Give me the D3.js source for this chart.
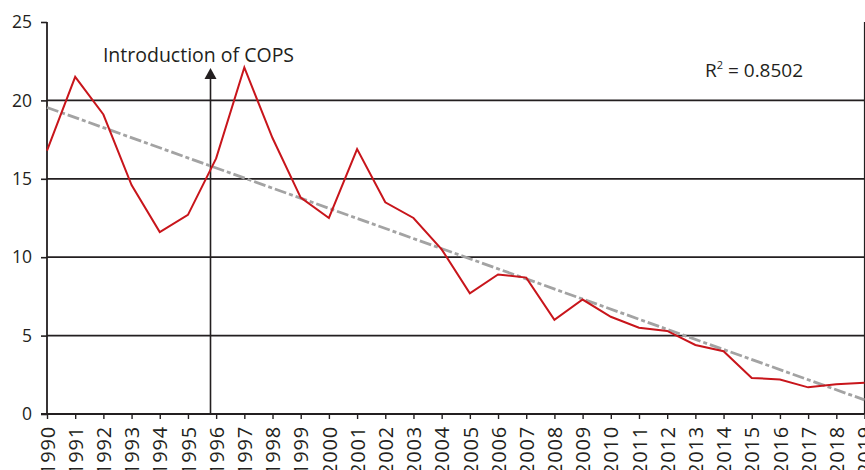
<!DOCTYPE html>
<html>
<head>
<meta charset="utf-8">
<script src="https://cdn.jsdelivr.net/npm/d3@7"></script>
<style>
	html, body { margin: 0; padding: 0; background: #fff; }
	svg { display: block; font-family: 'Open Sans', sans-serif; }
</style>
</head>
<body>
<div id="chart"></div>
<script>

var years = [1990, 1991, 1992, 1993, 1994, 1995, 1996, 1997, 1998, 1999, 2000, 2001, 2002, 2003, 2004,
	2005, 2006, 2007, 2008, 2009, 2010, 2011, 2012, 2013, 2014, 2015, 2016, 2017, 2018, 2019];
var values = [16.8, 21.5, 19.1, 14.6, 11.6, 12.7, 16.3, 22.1, 17.6, 13.8, 12.5, 16.9, 13.5, 12.5, 10.5,
	7.7, 8.9, 8.7, 6.0, 7.3, 6.2, 5.5, 5.3, 4.4, 4.0, 2.3, 2.2, 1.7, 1.9, 2.0];
var trendYears = [1990, 2019];
var trendValues = [19.55, 0.9];
var yTicks = [0, 5, 10, 15, 20, 25];
var gridTicks = [5, 10, 15, 20];
var arrowYear = 1995.8;
var arrowLabel = 'Introduction of COPS';
var rLabel = '0.8502';

var width = 865;
var height = 470;
var plotLeft = 47;
var plotRight = 864.5;
var plotTop = 22;
var plotBottom = 414;
var ink = '#231f20';

var svg = d3.select('#chart').append('svg')
	.attr('width', width)
	.attr('height', height);

var x = d3.scaleLinear().domain([1990, 2019]).range([plotLeft, plotRight]);
var y = d3.scaleLinear().domain([0, 25]).range([plotBottom, plotTop]);

// grid
svg.append('g').selectAll('line').data(gridTicks).join('line')
	.attr('x1', plotLeft).attr('x2', plotRight)
	.attr('y1', function(d) { return y(d); })
	.attr('y2', function(d) { return y(d); })
	.style('stroke', ink).style('stroke-width', 1.7);

// right border
svg.append('line')
	.attr('x1', plotRight).attr('x2', plotRight)
	.attr('y1', y(25)).attr('y2', y(0))
	.style('stroke', ink).style('stroke-width', 1.2);

// y axis
var ga = svg.append('g').attr('transform', 'translate(' + plotLeft + ',0)')
	.call(d3.axisLeft(y).tickValues(yTicks).tickSize(6).tickPadding(9).tickFormat(d3.format('d')));
ga.select('.domain').attr('d', 'M0,' + y(25) + 'V' + y(0)).style('stroke', ink).style('stroke-width', 1.8);
ga.selectAll('.tick line').style('stroke', ink).style('stroke-width', 1.6);
ga.selectAll('.tick text').style('font-size', '17.5px').style('fill', ink).style('font-family', "'Open Sans', sans-serif");

// x axis
var gx = svg.append('g').attr('transform', 'translate(0,' + plotBottom + ')')
	.call(d3.axisBottom(x).tickValues(years).tickSize(5).tickFormat(d3.format('d')));
gx.select('.domain').attr('d', 'M' + (plotLeft - 6) + ',0H' + plotRight).style('stroke', ink).style('stroke-width', 1.8);
gx.selectAll('.tick line').style('stroke', ink).style('stroke-width', 1.4);
gx.selectAll('.tick text')
	.attr('transform', 'rotate(-90)')
	.attr('x', -12).attr('y', 0).attr('dy', '0.36em')
	.style('text-anchor', 'end')
	.style('font-size', '20px')
	.style('letter-spacing', '0.8px')
	.style('fill', ink)
	.style('font-family', "'Open Sans', sans-serif");

// arrow
var ax = x(arrowYear);
svg.append('line')
	.attr('x1', ax).attr('x2', ax)
	.attr('y1', y(0)).attr('y2', 77)
	.style('stroke', ink).style('stroke-width', 1.6);
svg.append('path')
	.attr('d', 'M' + (ax - 6) + ',79L' + ax + ',68L' + (ax + 6) + ',79Z')
	.style('fill', ink);

svg.append('text')
	.attr('x', ax - 12).attr('y', 62)
	.style('text-anchor', 'middle')
	.style('font-size', '19.5px')
	.style('fill', ink)
	.text(arrowLabel);

// trend
var line = d3.line().x(function(d) { return x(d[0]); }).y(function(d) { return y(d[1]); });

svg.append('path')
	.datum(d3.zip(trendYears, trendValues))
	.attr('d', line)
	.style('fill', 'none')
	.style('stroke', '#a3a3a3')
	.style('stroke-width', 2.8)
	.style('stroke-dasharray', '12,3,4,3');

// series
svg.append('path')
	.datum(d3.zip(years, values))
	.attr('d', line)
	.style('fill', 'none')
	.style('stroke', '#c8151b')
	.style('stroke-width', 2)
	.style('stroke-linejoin', 'miter');

// r squared
var rt = svg.append('text')
	.attr('x', 705).attr('y', 77)
	.style('font-size', '19px')
	.style('fill', ink);
rt.append('tspan').text('R');
rt.append('tspan').attr('dy', -8).style('font-size', '11px').text('2');
rt.append('tspan').attr('dy', 8).text(' = ' + rLabel);

</script>
</body>
</html>
